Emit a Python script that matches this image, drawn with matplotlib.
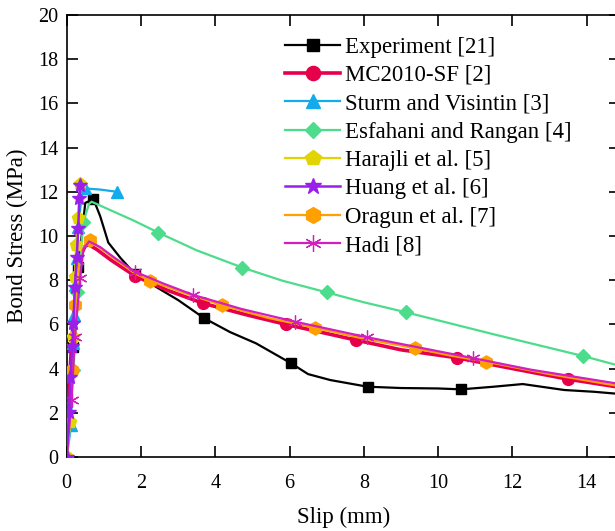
import numpy as np
import matplotlib
matplotlib.use('Agg')
import matplotlib.pyplot as plt

plt.rcParams['font.family'] = ['Liberation Serif', 'DejaVu Serif']
plt.rcParams['mathtext.fontset'] = 'stix'

# --- data (slip in mm, bond stress in MPa) ---
exp_x = [0, 0.08, 0.17, 0.31, 0.5, 0.72, 0.9, 1.12, 1.45, 1.84, 2.5, 3.0, 3.7,
         4.4, 5.1, 6.04, 6.5, 7.1, 8.1, 9.0, 10.0, 10.62, 11.5, 12.28, 13.4, 14.2, 14.9]
exp_y = [0, 2.1, 4.97, 8.61, 11.5, 11.66, 10.9, 9.7, 9.0, 8.28, 7.6, 7.1, 6.28,
         5.65, 5.14, 4.24, 3.75, 3.48, 3.18, 3.12, 3.1, 3.06, 3.18, 3.30, 3.03, 2.95, 2.85]
exp_marks = [2, 3, 5, 9, 12, 15, 18, 21]

mc_x = [0, 0.05, 0.12, 0.2, 0.3, 0.4, 0.5, 0.6, 0.8, 1.2, 1.84, 2.7, 3.68, 4.8,
        5.9, 7.79, 9.0, 10.5, 12.0, 13.5, 14.9]
mc_y = [0, 2.6, 4.8, 6.8, 8.4, 9.2, 9.55, 9.6, 9.4, 8.9, 8.19, 7.55, 6.95, 6.45,
        6.0, 5.29, 4.85, 4.49, 4.0, 3.52, 3.15]
mc_marks = [10, 12, 14, 15, 17, 19]

st_x = [0, 0.12, 0.17, 0.2, 0.22, 0.27, 0.31, 0.4, 0.5, 0.9, 1.35]
st_y = [0, 1.45, 5.16, 6.42, 7.78, 9.0, 10.4, 11.8, 12.15, 12.1, 12.0]
st_marks = [1, 2, 3, 4, 5, 6, 8, 10]

es_x = [0, 0.18, 0.29, 0.45, 0.6, 0.67, 1.2, 1.8, 2.47, 3.5, 4.73, 5.8, 7.0,
        8.0, 9.13, 11.5, 13.9, 14.9]
es_y = [0, 3.94, 7.48, 10.65, 11.45, 11.55, 11.15, 10.7, 10.15, 9.35, 8.57, 7.98,
        7.45, 7.0, 6.55, 5.55, 4.57, 4.12]
es_marks = [1, 2, 3, 8, 10, 12, 14, 16]

ha_x = [0, 0.1, 0.18, 0.22, 0.25, 0.31, 0.36]
ha_y = [0, 1.6, 5.44, 8.16, 9.6, 10.8, 12.35]

hu_x = [0, 0.06, 0.1, 0.15, 0.18, 0.22, 0.27, 0.31, 0.34, 0.36]
hu_y = [0, 2.05, 3.63, 5.0, 6.06, 7.7, 9.06, 10.35, 11.7, 12.3]

or_x = [0, 0.13, 0.22, 0.3, 0.45, 0.63, 0.9, 1.3, 1.84, 2.24, 3.2, 4.17, 5.4,
        6.69, 8.0, 9.38, 10.3, 11.29, 13.0, 14.9]
or_y = [0, 3.94, 6.88, 8.5, 9.45, 9.8, 9.45, 8.95, 8.3, 7.98, 7.4, 6.88, 6.3,
        5.85, 5.35, 4.92, 4.6, 4.31, 3.75, 3.2]
or_marks = [1, 2, 5, 9, 11, 13, 15, 17]

hd_x = [0, 0.13, 0.22, 0.36, 0.45, 0.6, 0.9, 1.3, 1.84, 2.6, 3.41, 4.7, 6.15,
        8.08, 9.5, 10.95, 12.5, 14.9]
hd_y = [0, 2.58, 5.44, 8.09, 9.4, 9.75, 9.5, 9.0, 8.38, 7.85, 7.33, 6.7, 6.12,
        5.42, 4.95, 4.47, 3.95, 3.3]
hd_marks = [1, 2, 3, 8, 10, 12, 13, 15]

fig = plt.figure(figsize=(6.15, 5.31), dpi=100)
ax = fig.add_axes([0.1085, 0.1394, 0.8997, 0.8324])

ax.plot(exp_x, exp_y, '-', color='black', lw=1.6, marker='s', ms=7,
        markevery=exp_marks, label='Experiment [21]', zorder=3)
ax.plot(mc_x, mc_y, '-', color='#E6004C', lw=2.6, marker='o', ms=8.5,
        markevery=mc_marks, label='MC2010-SF [2]', zorder=4)
ax.plot(st_x, st_y, '-', color='#12ABEB', lw=1.6, marker='^', ms=8.5,
        markevery=st_marks, label='Sturm and Visintin [3]', zorder=4)
ax.plot(es_x, es_y, '-', color='#4CDC8C', lw=1.6, marker='D', ms=7,
        markevery=es_marks, label='Esfahani and Rangan [4]', zorder=4)
ax.plot(ha_x, ha_y, '-', color='#E2D400', lw=1.6, marker='p', ms=9.5,
        label='Harajli et al. [5]', zorder=5)
ax.plot(hu_x, hu_y, '-', color='#9A1FEA', lw=1.8, marker='*', ms=10,
        label='Huang et al. [6]', zorder=7)
ax.plot(or_x, or_y, '-', color='#FFA000', lw=1.6, marker='h', ms=9.5,
        markevery=or_marks, label='Oragun et al. [7]', zorder=5)
ax.plot(hd_x, hd_y, '-', color='#D21EBE', lw=1.6, marker=(6, 2, 0), ms=10,
        mew=0.9, markevery=hd_marks, label='Hadi [8]', zorder=6)

ax.set_xlim(0, 14.9)
ax.set_ylim(0, 20)
ax.set_xticks(np.arange(0, 15, 2))
ax.set_yticks(np.arange(0, 21, 2))
ax.tick_params(axis='x', direction='in', length=8, width=1.2, top=True,
               labelsize=14.5, pad=12)
ax.tick_params(axis='y', direction='in', length=8, width=1.2, right=True,
               labelsize=14.5, pad=6)
for s in ax.spines.values():
    s.set_linewidth(1.2)

ax.set_xlabel('Slip (mm)', fontsize=16.5, labelpad=10)
ax.set_ylabel('Bond Stress (MPa)', fontsize=16.5, labelpad=7)

leg = ax.legend(loc='upper left', bbox_to_anchor=(0.378, 0.972), frameon=False,
                fontsize=16.5, handlelength=2.4, handletextpad=0.2,
                labelspacing=0.32, borderaxespad=0, markerscale=1.2)

fig.savefig('out.png', dpi=100)
